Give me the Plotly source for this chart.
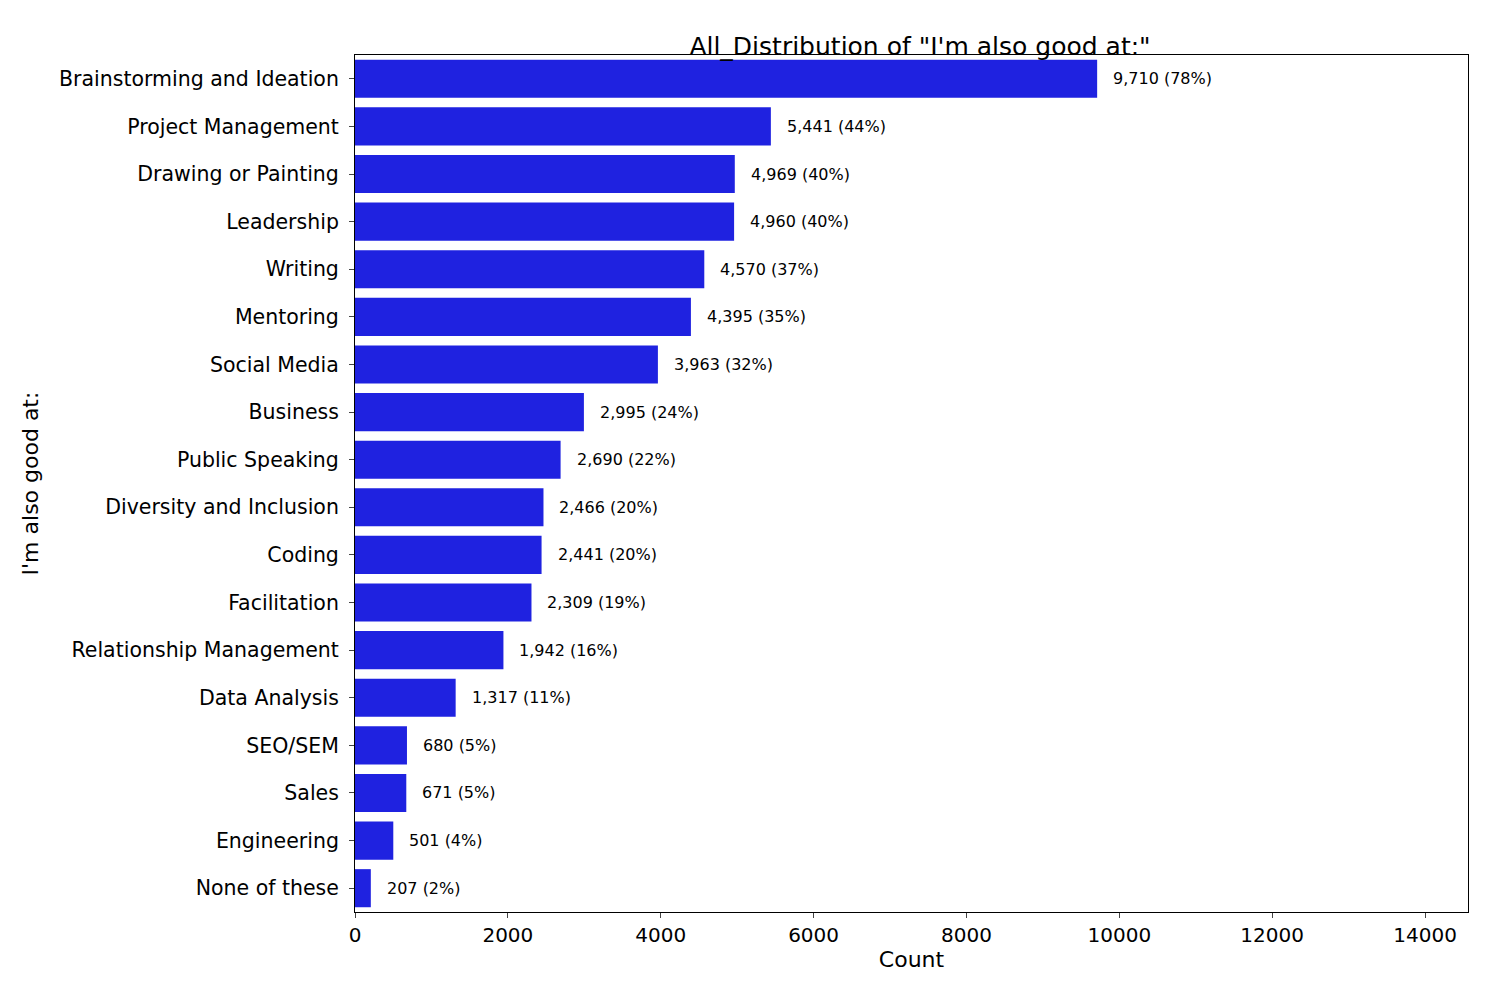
import plotly.graph_objects as go

skills = ["Brainstorming and Ideation", "Project Management", "Drawing or Painting", "Leadership",
          "Writing", "Mentoring", "Social Media", "Business", "Public Speaking",
          "Diversity and Inclusion", "Coding", "Facilitation", "Relationship Management",
          "Data Analysis", "SEO/SEM", "Sales", "Engineering", "None of these"]
counts = [9710, 5441, 4969, 4960, 4570, 4395, 3963, 2995, 2690, 2466, 2441, 2309, 1942, 1317, 680, 671, 501, 207]
percents = [78, 44, 40, 40, 37, 35, 32, 24, 22, 20, 20, 19, 16, 11, 5, 5, 4, 2]
x_ticks = [0, 2000, 4000, 6000, 8000, 10000, 12000, 14000]

labels = [f"{c:,} ({p}%)" for c, p in zip(counts, percents)]

fig = go.Figure(go.Bar(
    x=counts, y=skills, orientation="h", width=0.8,
    marker=dict(color="#1f22e0", line=dict(width=0)),
))

# value labels a bit right of each bar end
for s, c, lab in zip(skills, counts, labels):
    fig.add_annotation(x=c, y=s, text=lab, showarrow=False, xanchor="left", xshift=14,
                       font=dict(size=16, color="black"))

fig.update_layout(
    width=1500, height=1000,
    font=dict(family="DejaVu Sans", color="black", size=20),
    paper_bgcolor="white", plot_bgcolor="white",
    margin=dict(l=347, r=40, t=47, b=96),
    title=dict(text="All_Distribution of \"I'm also good at:\"", x=0.608, xanchor="center",
               y=0.962, yanchor="middle", font=dict(size=25)),
    showlegend=False,
)
fig.update_xaxes(range=[0, 14562], tickvals=x_ticks, ticktext=[str(t) for t in x_ticks],
                 showgrid=False, zeroline=False, showline=True, linecolor="black", mirror=True,
                 ticks="outside", ticklen=5, tickfont=dict(size=20),
                 title=dict(text="Count", font=dict(size=22), standoff=4))
fig.update_yaxes(categoryorder="array", categoryarray=skills[::-1],
                 showgrid=False, showline=True, linecolor="black", mirror=True,
                 ticks="outside", ticklen=5, tickfont=dict(size=20.5), ticklabelstandoff=6,
                 range=[-0.5, len(skills) - 0.5],
                 title=dict(text="I'm also good at:", font=dict(size=22), standoff=14))

fig.write_html("out.html")
